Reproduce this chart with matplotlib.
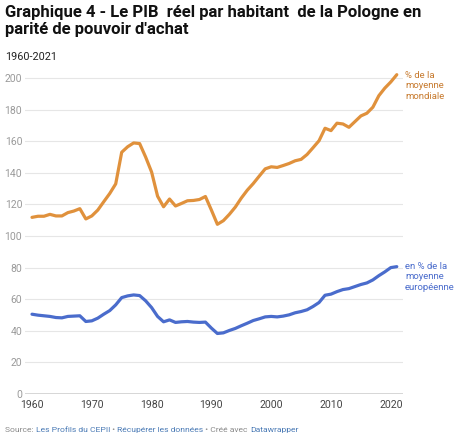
import matplotlib
matplotlib.use("Agg")
from matplotlib import pyplot as plt

plt.rcParams['font.family'] = ['Roboto', 'DejaVu Sans']

years = list(range(1960, 2022))

# PIB par habitant en % de la moyenne mondiale
mondiale = [111.8, 112.5, 112.5, 113.7, 112.7, 112.7, 114.8, 115.8, 117.3, 110.8,
            112.7, 116.4, 121.7, 126.9, 133.0, 153.0, 156.5, 158.9, 158.5, 150.0,
            140.5, 125.2, 118.5, 123.4, 119.0, 120.6, 122.3, 122.5, 123.1, 125.0,
            116.4, 107.4, 109.7, 113.7, 118.3, 124.0, 129.0, 133.2, 137.9, 142.5,
            143.8, 143.4, 144.6, 145.9, 147.6, 148.5, 151.6, 155.9, 160.3, 168.2,
            166.7, 171.4, 170.9, 168.8, 172.4, 176.0, 177.7, 181.5, 188.8, 193.6,
            197.5, 202.1]

# PIB par habitant en % de la moyenne europeenne
europeenne = [50.5, 49.9, 49.5, 49.1, 48.4, 48.2, 49.1, 49.3, 49.5, 45.9,
              46.3, 48.0, 50.5, 52.8, 56.4, 61.0, 62.1, 62.7, 62.3, 59.0,
              54.7, 49.1, 45.7, 46.9, 45.3, 45.7, 45.9, 45.5, 45.3, 45.5,
              41.7, 38.3, 38.7, 40.2, 41.5, 43.2, 44.8, 46.5, 47.6, 48.8,
              49.1, 48.8, 49.3, 50.1, 51.4, 52.2, 53.3, 55.4, 57.9, 62.5,
              63.2, 64.8, 66.1, 66.7, 68.0, 69.3, 70.3, 72.2, 74.9, 77.3,
              80.0, 80.6]

y_ticks = [0, 20, 40, 60, 80, 100, 120, 140, 160, 180, 200]
x_ticks = [1960, 1970, 1980, 1990, 2000, 2010, 2020]

orange = '#e0913c'
blue = '#4a6ccc'

W, H = 460, 443
fig = plt.figure(figsize=(W / 100, H / 100), dpi=100)
ax = fig.add_axes([25 / W, (H - 394) / H, 378 / W, 323.9 / H])

ax.plot(years, mondiale, color=orange, lw=2.3, solid_capstyle='round', solid_joinstyle='round')
ax.plot(years, europeenne, color=blue, lw=2.3, solid_capstyle='round', solid_joinstyle='round')

ax.set_xlim(1958.83, 2022.04)
ax.set_ylim(0, 205)

for t in y_ticks[1:]:
    ax.axhline(t, color='#e6e6e6', lw=0.8, zorder=0)
ax.axhline(0, color='#333333', lw=1.0, zorder=1)

ax.set_yticks(y_ticks)
ax.set_xticks(x_ticks)
ax.tick_params(axis='y', length=0, pad=2, labelsize=7.5, labelcolor='#9a9a9a')
ax.tick_params(axis='x', length=0, pad=4, labelsize=7.6, labelcolor='#444444')
for s in ax.spines.values():
    s.set_visible(False)

# series labels
fig.text(405 / W, 1 - 71 / H, "% de la\nmoyenne\nmondiale", color='#c77a2e',
         fontsize=6.8, va='top', ha='left', linespacing=1.2)
fig.text(405 / W, 1 - 262 / H, "en % de la\nmoyenne\neuropéenne", color='#4a6ccc',
         fontsize=6.8, va='top', ha='left', linespacing=1.2)

# title and subtitle
fig.text(5 / W, 1 - 5 / H, "Graphique 4 - Le PIB  réel par habitant  de la Pologne en\nparité de pouvoir d'achat",
         fontsize=12.0, fontweight='bold', color='#111111', va='top', ha='left', linespacing=1.15)
fig.text(5 / W, 1 - 57 / H, "1960-2021", fontsize=7.8, color='#222222', va='center', ha='left')

# source line
parts = [("Source: ", '#8a8a8a'), ("Les Profils du CEPII", '#4a7ab5'), (" • ", '#8a8a8a'),
         ("Récupérer les données", '#4a7ab5'), (" • Créé avec ", '#8a8a8a'), ("Datawrapper", '#4a7ab5')]
renderer = fig.canvas.get_renderer()
x = 5
for txt, col in parts:
    t = fig.text(x / W, 1 - 430 / H, txt, fontsize=6.1, color=col, va='center', ha='left')
    x += t.get_window_extent(renderer).width

fig.savefig("out.png", dpi=100, facecolor='white')
